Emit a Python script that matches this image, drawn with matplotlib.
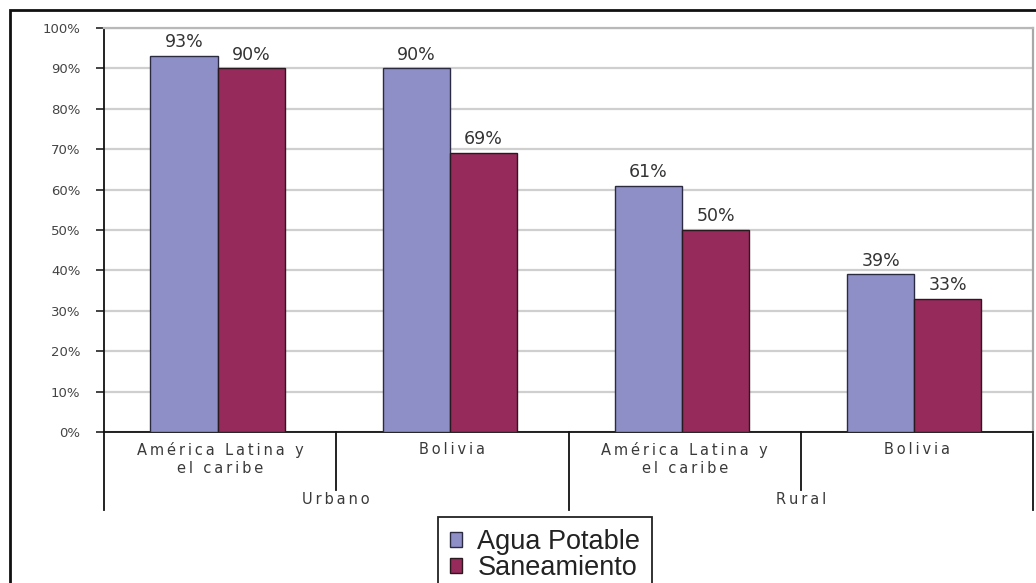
import numpy as np
import matplotlib
matplotlib.use('Agg')
import matplotlib.pyplot as plt
from matplotlib.patches import Rectangle

plt.rcParams['font.family'] = ['Liberation Sans', 'DejaVu Sans']

# cobertura por zona y region
zonas = ['Urbano', 'Rural']
regiones = ['América Latina y\nel caribe', 'Bolivia', 'América Latina y\nel caribe', 'Bolivia']
agua = [93, 90, 61, 39]
saneamiento = [90, 69, 50, 33]
series = ['Agua Potable', 'Saneamiento']

c_agua = '#8F8FC8'
c_san = '#962A5A'


def espaciado(txt):
    # separa las letras para imitar el estilo de excel
    lineas = []
    for ln in txt.split('\n'):
        palabras = ['\u2009'.join(p) for p in ln.split(' ')]
        lineas.append('\u2009 \u2009'.join(palabras))
    return '\n'.join(lineas)


fig = plt.figure(figsize=(10.36, 5.83), dpi=100)
W, H = 1036, 583
ax = fig.add_axes([104 / W, 1 - 432 / H, (1033 - 104) / W, (432 - 28) / H])

x = np.arange(len(regiones))
w = 0.289
b1 = ax.bar(x - 0.30, agua, w, align='edge', color=c_agua, edgecolor='#2a2a40', lw=1.0, zorder=3)
b2 = ax.bar(x - 0.011, saneamiento, w, align='edge', color=c_san, edgecolor='#2a1a20', lw=1.0, zorder=3)

for bars, vals in [(b1, agua), (b2, saneamiento)]:
    for r, v in zip(bars, vals):
        ax.annotate(f'{v}%', (r.get_x() + r.get_width() / 2, v), xytext=(0, 3.5),
                    textcoords='offset points', ha='center', va='bottom',
                    fontsize=12.5, color='#333333', family='DejaVu Sans')

ax.set_xlim(-0.5, len(regiones) - 0.5)
ax.set_ylim(0, 100)
ax.set_yticks(np.arange(0, 101, 10))
ax.set_yticklabels([f'{t}%' for t in range(0, 101, 10)], fontsize=9.5, color='#444444',
                   family='DejaVu Sans')
ax.tick_params(axis='y', length=6, width=1.2, pad=11, color='#222222')
ax.grid(axis='y', color='#cfcfcf', lw=1.6, zorder=0)
ax.set_xticks([])

ax.spines['top'].set_color('#b8b8b8')
ax.spines['right'].set_color('#a8a8a8')
ax.spines['top'].set_linewidth(1.6)
ax.spines['right'].set_linewidth(1.6)
ax.spines['left'].set_color('#111111')
ax.spines['bottom'].set_color('#111111')
ax.spines['left'].set_linewidth(1.3)
ax.spines['bottom'].set_linewidth(1.3)

# eje de categorias de dos niveles
tr = ax.get_xaxis_transform()
for xb in [-0.5, 1.5, 3.5]:
    ax.plot([xb, xb], [0, -0.193], transform=tr, color='#111111', lw=1.3, clip_on=False)
for xb in [0.5, 2.5]:
    ax.plot([xb, xb], [0, -0.144], transform=tr, color='#111111', lw=1.3, clip_on=False)

for i, reg in enumerate(regiones):
    ax.text(i, -0.024, espaciado(reg), transform=tr, ha='center', va='top',
            fontsize=10.5, color='#3a3a3a', linespacing=1.3, family='DejaVu Sans')
for j, z in enumerate(zonas):
    ax.text(2 * j + 0.5, -0.168, espaciado(z), transform=tr, ha='center', va='center',
            fontsize=10.5, color='#3a3a3a', family='DejaVu Sans')

leg = fig.legend([b1, b2], series, loc='upper left', bbox_to_anchor=(438 / W, 1 - 517 / H),
                 prop={'size': 19.5}, frameon=True, fancybox=False, edgecolor='#222222',
                 framealpha=1, handlelength=0.45, handleheight=0.45, handletextpad=0.55,
                 borderpad=0.45, labelspacing=0.0, borderaxespad=0)
leg.get_frame().set_linewidth(1.3)
for t in leg.get_texts():
    t.set_color('#222222')

# marco exterior
fig.patches.append(Rectangle((10 / W, -0.1), 1.2, 1.1 - 10 / H, transform=fig.transFigure,
                             fill=False, edgecolor='#111111', lw=2))

fig.savefig('out.png', dpi=100)
